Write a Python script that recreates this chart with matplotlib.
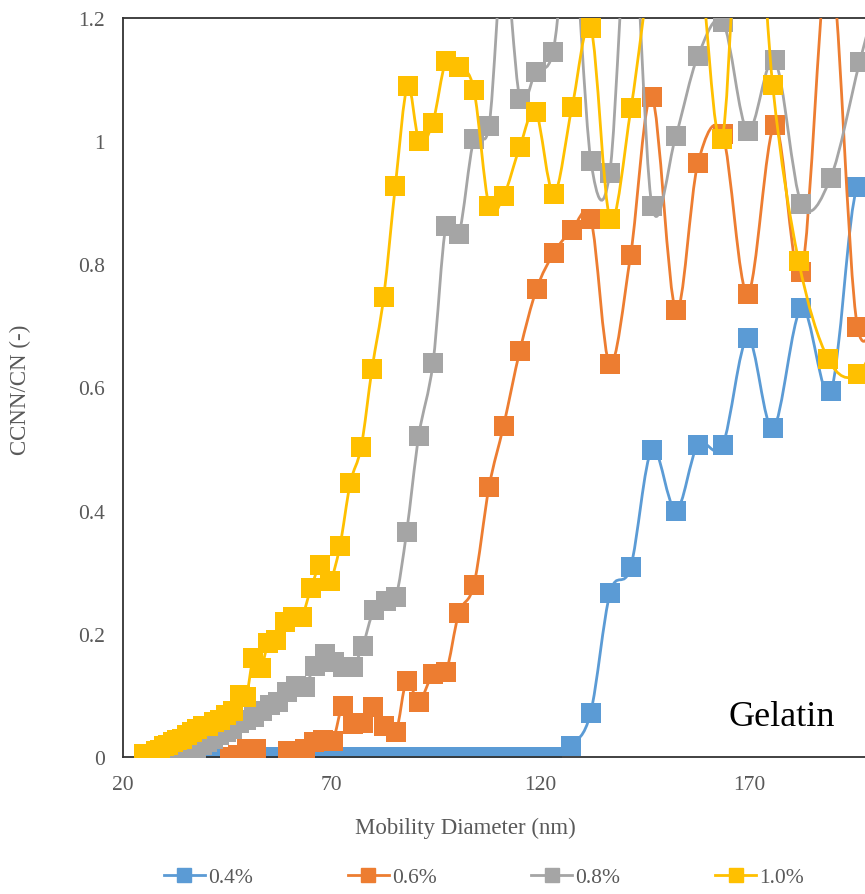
import numpy as np
import matplotlib
matplotlib.use("Agg")
import matplotlib.pyplot as plt
from matplotlib.path import Path
from matplotlib.patches import PathPatch
from matplotlib.lines import Line2D

plt.rcParams['font.family'] = ['Liberation Serif', 'DejaVu Serif']

# ---------------- data ----------------
x_04 = [33.3, 34.4, 35.6, 36.8, 38.1, 39.4, 40.8, 42.2, 43.7, 45.3, 46.9, 48.6,
        50.4, 52.2, 54.1, 56.1, 58.1, 60.2, 62.4, 64.6, 67.0, 69.4, 71.9, 74.5,
        77.2, 80.0, 82.9, 85.9, 89.0, 92.2, 95.6, 99.1, 102.7, 106.4, 110.3,
        114.3, 118.4, 122.7, 127.2, 131.9, 136.6, 141.5, 146.6, 152.3, 157.6,
        163.5, 169.5, 175.6, 182.4, 189.4, 195.8, 203.0]
y_04 = [0.0] * 38 + [0.018, 0.071, 0.267, 0.308, 0.499, 0.400, 0.507, 0.506,
                     0.680, 0.534, 0.729, 0.594, 0.926, 0.78]

x_06 = [45.6, 47.5, 49.7, 51.8, 53.7, 55.6, 57.6, 59.5, 61.6, 63.5, 65.7, 67.8,
        70.2, 72.6, 75.0, 77.4, 79.8, 82.4, 85.3, 87.9, 90.8, 94.2, 97.3, 100.4,
        104.0, 107.6, 111.1, 115.0, 119.0, 123.1, 127.4, 132.0, 136.5, 141.5,
        146.6, 152.3, 157.6, 163.5, 169.5, 176.0, 182.4, 189.1, 195.8, 203.0]
y_06 = [0.0, 0.003, 0.013, 0.013, -0.03, -0.03, -0.03, 0.01, 0.008, 0.013, 0.025,
        0.028, 0.026, 0.083, 0.054, 0.055, 0.081, 0.051, 0.040, 0.124, 0.090,
        0.135, 0.138, 0.234, 0.280, 0.438, 0.538, 0.660, 0.760, 0.818, 0.855,
        0.873, 0.638, 0.815, 1.072, 0.726, 0.964, 1.012, 0.752, 1.026, 0.787,
        1.30, 0.698, 0.80]

x_08 = [29.6, 30.5, 31.7, 32.7, 33.9, 35.1, 36.3, 37.5, 38.9, 40.1, 41.5, 42.9,
        44.6, 46.1, 47.8, 49.4, 51.3, 53.3, 55.2, 57.1, 59.2, 61.4, 63.5, 65.9,
        68.3, 70.5, 72.6, 75.0, 77.4, 80.0, 82.9, 85.3, 87.9, 90.8, 94.2, 97.3,
        100.4, 104.0, 107.6, 111.1, 115.0, 118.8, 122.9, 127.4, 132.0, 136.5,
        141.5, 146.6, 152.3, 157.6, 163.6, 169.5, 176.0, 182.4, 189.4, 196.3, 203.0]
y_08 = [0.0, 0.0, 0.002, 0.003, 0.005, 0.008, 0.012, 0.015, 0.02, 0.025, 0.03,
        0.035, 0.04, 0.045, 0.055, 0.06, 0.065, 0.075, 0.085, 0.09, 0.105, 0.115,
        0.114, 0.148, 0.167, 0.155, 0.146, 0.146, 0.181, 0.238, 0.254, 0.259,
        0.366, 0.522, 0.640, 0.863, 0.849, 1.004, 1.024, 1.30, 1.069, 1.113,
        1.144, 1.35, 0.967, 0.948, 1.40, 0.895, 1.008, 1.138, 1.193, 1.017,
        1.131, 0.898, 0.941, 1.128, 1.30]

x_10 = [25.1, 26.0, 26.9, 27.8, 28.8, 29.8, 30.8, 31.9, 33.0, 34.1, 35.3, 36.5,
        37.8, 39.1, 40.4, 41.8, 43.2, 44.7, 46.3, 47.9, 49.5, 51.2, 53.0, 54.8,
        56.7, 58.7, 60.7, 62.8, 65.0, 67.2, 69.5, 71.9, 74.4, 77.0, 79.6, 82.4,
        85.2, 88.1, 90.9, 94.1, 97.3, 100.5, 104.0, 107.6, 111.1, 115.0, 118.8,
        123.1, 127.5, 132.0, 136.6, 141.6, 146.7, 152.2, 157.6, 163.4, 169.3,
        175.5, 181.7, 188.8, 195.9, 203.0]
y_10 = [0.005, 0.003, 0.005, 0.01, 0.012, 0.018, 0.02, 0.025, 0.028, 0.03, 0.035,
        0.04, 0.045, 0.05, 0.05, 0.057, 0.06, 0.068, 0.075, 0.1, 0.098, 0.16,
        0.145, 0.185, 0.19, 0.22, 0.228, 0.228, 0.274, 0.311, 0.286, 0.342,
        0.445, 0.503, 0.630, 0.747, 0.928, 1.089, 1.000, 1.029, 1.130, 1.121,
        1.083, 0.895, 0.911, 0.991, 1.048, 0.914, 1.056, 1.183, 0.874, 1.054,
        1.30, 1.45, 1.33, 1.004, 1.6, 1.091, 0.806, 0.646, 0.622, 0.72]

labels = ['0.4%', '0.6%', '0.8%', '1.0%']
colors = ['#5B9BD5', '#ED7D31', '#A5A5A5', '#FFC000']
series = [(x_04, y_04), (x_06, y_06), (x_08, y_08), (x_10, y_10)]

xticks = [20, 70, 120, 170]
yticks = [0, 0.2, 0.4, 0.6, 0.8, 1.0, 1.2]
ytick_labels = ['0', '0.2', '0.4', '0.6', '0.8', '1', '1.2']

FS = 15.5
FS_TITLE = 16.5

# ---------------- figure ----------------
W, H = 865, 895
fig = plt.figure(figsize=(W / 100, H / 100), dpi=100)
ax = fig.add_axes([123 / W, 1 - 758 / H, (W - 123) / W, (758 - 19) / H])
ax.set_xlim(20, 197.6)
ax.set_ylim(0, 1.2)


def smooth_path(x, y, t=1.0):
    pts = np.column_stack([x, y]).astype(float)
    verts = [pts[0]]
    codes = [Path.MOVETO]
    n = len(pts)
    for i in range(n - 1):
        p0 = pts[i - 1] if i > 0 else pts[i]
        p1 = pts[i]
        p2 = pts[i + 1]
        p3 = pts[i + 2] if i + 2 < n else pts[i + 1]
        c1 = p1 + (p2 - p0) / 6 * t
        c2 = p2 - (p3 - p1) / 6 * t
        verts += [c1, c2, p2]
        codes += [Path.CURVE4] * 3
    return Path(verts, codes)


z = 2
for (xs, ys), c in zip(series, colors):
    patch = PathPatch(smooth_path(xs, ys), facecolor='none', edgecolor=c,
                      lw=2.0, transform=ax.transData, zorder=z)
    ax.add_patch(patch)
    ax.plot(xs, ys, ls='none', marker='s', ms=14, mfc=c, mec=c, mew=0,
            zorder=z + 0.5)
    z += 1

ax.set_xticks(xticks)
ax.set_yticks(yticks)
ax.set_yticklabels(ytick_labels)
ax.tick_params(length=0, labelsize=FS, labelcolor='#595959', pad=13)
ax.tick_params(axis='x', pad=13)
for s in ['top', 'bottom', 'left']:
    ax.spines[s].set_color('#333333')
    ax.spines[s].set_linewidth(1.3)
ax.spines['right'].set_visible(False)

ax.text(177.7, 0.065, 'Gelatin', fontsize=26, ha='center', va='center',
        color='black', zorder=20)

fig.text(20 / W, 1 - 390 / H, 'CCNN/CN (-)', rotation=90, ha='center',
         va='center', fontsize=FS_TITLE, color='#595959')
fig.text(465 / W, 1 - 828 / H, 'Mobility Diameter (nm)', ha='center',
         va='center', fontsize=FS_TITLE, color='#595959')

handles = [Line2D([0], [0], color=c, lw=2.0, marker='s', ms=10, mec=c)
           for c in colors]
fig.legend(handles, labels, loc='center', bbox_to_anchor=(484 / W, 1 - 878 / H),
           ncol=4, frameon=False, fontsize=FS, handlelength=1.9,
           handletextpad=0.15, columnspacing=4.4, labelcolor='#595959')

fig.savefig('out.png', dpi=100)
